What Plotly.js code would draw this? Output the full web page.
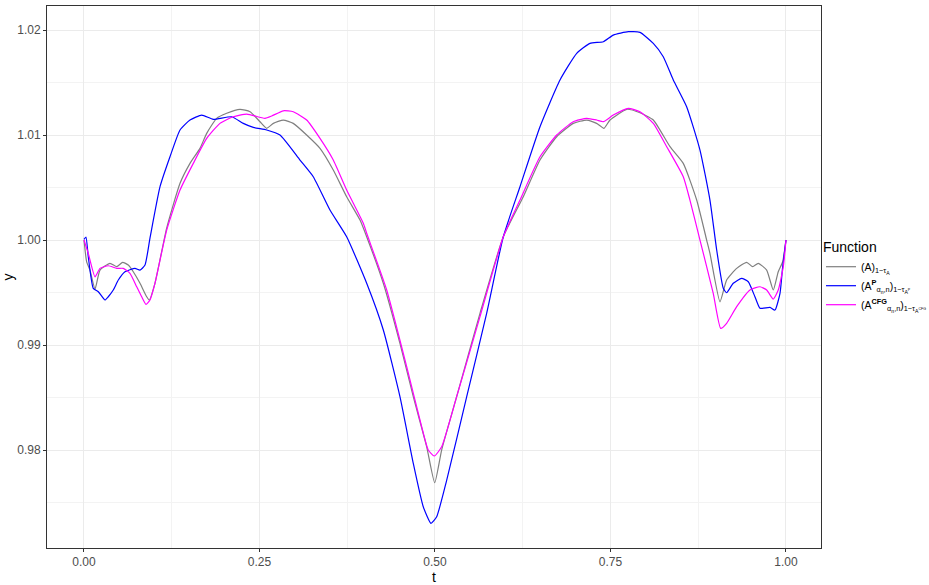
<!DOCTYPE html>
<html>
<head>
<meta charset="utf-8">
<script src="https://cdn.plot.ly/plotly-3.0.1.min.js"></script>
<style>
  body { margin: 0; background: #fff; }
  #graph_area { width: 929px; height: 585px; }
</style>
</head>
<body>
<div id="graph_area"></div>
<script>
// values
const t_A = [0, 0.0038, 0.0085, 0.0157, 0.0228, 0.037, 0.0466, 0.0551, 0.0631, 0.0702, 0.0798, 0.0893, 0.093, 0.1011, 0.1178, 0.1368, 0.151, 0.1652, 0.1748, 0.189, 0.2033, 0.2222, 0.2365, 0.2507, 0.2603, 0.2697, 0.2839, 0.2981, 0.3172, 0.3362, 0.3551, 0.3742, 0.3932, 0.4027, 0.4264, 0.4501, 0.4691, 0.4882, 0.4996, 0.5095, 0.5309, 0.5641, 0.5973, 0.6258, 0.6496, 0.6734, 0.697, 0.7161, 0.7303, 0.7407, 0.7493, 0.7731, 0.792, 0.811, 0.8348, 0.8537, 0.8728, 0.887, 0.8917, 0.906, 0.9155, 0.9298, 0.944, 0.9526, 0.9605, 0.9725, 0.9819, 0.989, 0.9953, 1.0];
const y_A = [1.0, 0.99793, 0.99714, 0.99533, 0.99714, 0.99778, 0.99746, 0.99788, 0.99762, 0.99698, 0.99588, 0.9946, 0.99429, 0.99588, 1.00114, 1.0054, 1.0073, 1.00873, 1.01016, 1.01159, 1.01207, 1.01245, 1.01222, 1.01127, 1.01064, 1.01111, 1.01143, 1.01111, 1.01, 1.00873, 1.00667, 1.00412, 1.0019, 1.00031, 0.99588, 0.99016, 0.98508, 0.98031, 0.97689, 0.98, 0.98508, 0.99302, 1.00031, 1.00412, 1.00762, 1.00984, 1.01111, 1.01143, 1.01111, 1.01064, 1.01143, 1.01245, 1.01212, 1.01143, 1.00889, 1.0073, 1.00381, 1.0, 0.99873, 0.99412, 0.99619, 0.9973, 0.99788, 0.99746, 0.99778, 0.99714, 0.99524, 0.99698, 0.99793, 1.0];

const t_P = [0, 0.0028, 0.0061, 0.0132, 0.0204, 0.0299, 0.0346, 0.0417, 0.0489, 0.0584, 0.0726, 0.0798, 0.0869, 0.094, 0.1083, 0.1225, 0.1368, 0.151, 0.1677, 0.1842, 0.2104, 0.2269, 0.2412, 0.2603, 0.2792, 0.3077, 0.3266, 0.3504, 0.3742, 0.4027, 0.4264, 0.4501, 0.4691, 0.4833, 0.4943, 0.5024, 0.5167, 0.5452, 0.5736, 0.5973, 0.6211, 0.6496, 0.6781, 0.7019, 0.7208, 0.7398, 0.754, 0.7754, 0.792, 0.811, 0.8252, 0.8395, 0.8585, 0.8775, 0.8917, 0.9013, 0.9107, 0.9155, 0.9249, 0.9368, 0.9463, 0.9558, 0.963, 0.9772, 0.9843, 0.9915, 0.9953, 1.0];
const y_P = [1.00007, 1.00029, 0.99841, 0.9954, 0.99508, 0.99429, 0.9946, 0.99524, 0.99619, 0.99698, 0.9973, 0.99714, 0.99762, 1.00019, 1.00508, 1.00793, 1.01048, 1.01143, 1.0119, 1.0115, 1.01174, 1.01111, 1.01073, 1.01048, 1.01, 1.00762, 1.00603, 1.00286, 1.00031, 0.99588, 0.99143, 0.98508, 0.97873, 0.9746, 0.97302, 0.97365, 0.97714, 0.98508, 0.99302, 1.00031, 1.00508, 1.01079, 1.01524, 1.01778, 1.01873, 1.01889, 1.01952, 1.01984, 1.01978, 1.01873, 1.01746, 1.01524, 1.0127, 1.00857, 1.00381, 0.99905, 0.9954, 0.99498, 0.99588, 0.99635, 0.99603, 0.9946, 0.9935, 0.99359, 0.99333, 0.99492, 0.99746, 1.0];

const t_CFG = [0, 0.0061, 0.0157, 0.0228, 0.0346, 0.0466, 0.056, 0.0655, 0.0751, 0.0822, 0.0883, 0.094, 0.1011, 0.1178, 0.1368, 0.1557, 0.1748, 0.1937, 0.2127, 0.2318, 0.2578, 0.2674, 0.2839, 0.2981, 0.3172, 0.3362, 0.3551, 0.3742, 0.3979, 0.4027, 0.4312, 0.4597, 0.4786, 0.4904, 0.499, 0.5095, 0.5309, 0.5641, 0.5973, 0.6211, 0.6496, 0.6734, 0.697, 0.7161, 0.7303, 0.7397, 0.754, 0.7754, 0.792, 0.811, 0.8301, 0.8537, 0.8632, 0.8775, 0.8964, 0.907, 0.9155, 0.9298, 0.9487, 0.963, 0.9725, 0.9819, 0.989, 0.9962, 1.0];
const y_CFG = [1.0, 0.99873, 0.9965, 0.9973, 0.99755, 0.9973, 0.9973, 0.99683, 0.99555, 0.9946, 0.99388, 0.99429, 0.99588, 1.00095, 1.00476, 1.0073, 1.00968, 1.01111, 1.01174, 1.012, 1.01159, 1.01181, 1.01231, 1.01222, 1.01143, 1.00968, 1.00762, 1.00476, 1.00159, 1.00064, 0.99524, 0.98793, 0.98286, 0.98, 0.97943, 0.98031, 0.98508, 0.9927, 1.00031, 1.00381, 1.00793, 1.01, 1.01127, 1.01159, 1.01143, 1.01127, 1.0119, 1.01254, 1.01222, 1.01111, 1.00889, 1.00603, 1.00381, 1.0, 0.99492, 0.99159, 0.99207, 0.99365, 0.99524, 0.99555, 0.99524, 0.99438, 0.99524, 0.99746, 1.0];

const x_ticks = [0, 0.25, 0.5, 0.75, 1.0];
const x_labels = ["0.00", "0.25", "0.50", "0.75", "1.00"];
const y_ticks = [0.98, 0.99, 1.00, 1.01, 1.02];
const y_labels = ["0.98", "0.99", "1.00", "1.01", "1.02"];

const names = [
    "(A)<sub>1−τ<sub>A</sub></sub>",
    "(A<sup><b>P</b></sup><sub>α<sub>n</sub>,n</sub>)<sub>1−τ<sub>A<sup>P</sup></sub></sub>",
    "(A<sup><b>CFG</b></sup><sub>α<sub>n</sub>,n</sub>)<sub>1−τ<sub>A<sup>CFG</sup></sub></sub>"
];
const colors = ["#7f7f7f", "#0000ff", "#ff00ff"];

const font = "Liberation Sans, Arial, sans-serif";

function trace(x, y, i) {
    return {
        x: x, y: y, name: names[i],
        type: "scatter", mode: "lines",
        line: { color: colors[i], width: 1.2, shape: "spline", smoothing: 0.5 },
    };
}

const axisBase = {
    showline: true, mirror: true, linecolor: "#333333", linewidth: 1,
    gridcolor: "#ebebeb", gridwidth: 1,
    zeroline: false,
    ticks: "outside", ticklen: 3, tickcolor: "#333333",
    tickfont: { family: font, size: 12, color: "#4d4d4d" },
};

Plotly.newPlot("graph_area", [
    trace(t_A, y_A, 0),
    trace(t_P, y_P, 1),
    trace(t_CFG, y_CFG, 2),
], {
    width: 929, height: 585,
    margin: { l: 47, r: 108, t: 6, b: 37, autoexpand: false },
    paper_bgcolor: "#ffffff", plot_bgcolor: "#ffffff",
    font: { family: font },
    xaxis: Object.assign({}, axisBase, {
        range: [-0.0527, 1.0499],
        tickvals: x_ticks, ticktext: x_labels,
        minor: { tickvals: [0.125, 0.375, 0.625, 0.875], showgrid: true, gridcolor: "#f3f3f3", gridwidth: 0.6, ticks: "" },
        title: { text: "t", font: { family: font, size: 14, color: "#000" }, standoff: 4 },
    }),
    yaxis: Object.assign({}, axisBase, {
        range: [0.97067, 1.02229],
        tickvals: y_ticks, ticktext: y_labels,
        minor: { tickvals: [0.975, 0.985, 0.995, 1.005, 1.015], showgrid: true, gridcolor: "#f3f3f3", gridwidth: 0.6, ticks: "" },
        title: { text: "y", font: { family: font, size: 14, color: "#000" }, standoff: 6 },
    }),
    legend: {
        x: 1.0, xanchor: "left", y: 0.5, yanchor: "middle",
        bgcolor: "rgba(0,0,0,0)",
        title: { text: "Function", font: { family: font, size: 14, color: "#000" } },
        font: { family: font, size: 10.5, color: "#000" },
        tracegroupgap: 2,
        itemwidth: 30,
    },
    showlegend: true,
}, { displayModeBar: false });
</script>
</body>
</html>
